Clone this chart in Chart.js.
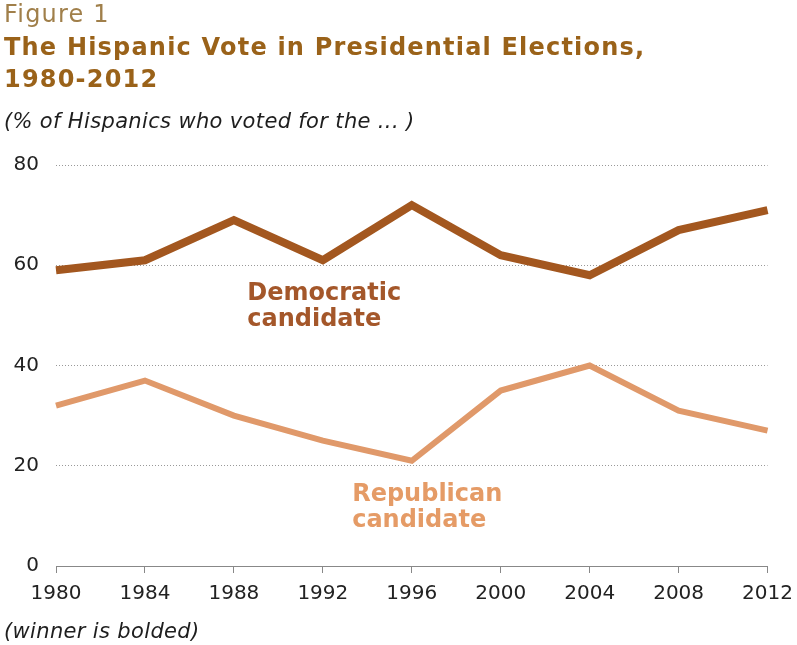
<!DOCTYPE html>
<html>
<head>
<meta charset="utf-8">
<script src="https://cdn.jsdelivr.net/npm/chart.js@4.4.0/dist/chart.umd.min.js"></script>
<style>
  body { margin: 0; background: #fff; }
  #wrap { position: relative; width: 797px; height: 645px; overflow: hidden; }
  #wrap canvas { position: absolute; left: 0; top: 0; }
  .txt { position: absolute; left: 4px; white-space: nowrap; font-family: "DejaVu Sans", Verdana, sans-serif; }
  #fig { top: 1px; font-size: 24px; line-height: 26px; letter-spacing: 1.2px; color: #a07f4a; }
  #title { top: 31px; font-size: 24px; line-height: 32px; letter-spacing: 1.2px; font-weight: bold; color: #9a6219; }
  #sub { top: 109px; font-size: 21px; line-height: 24px; letter-spacing: 0.35px; font-style: italic; color: #1e1e1e; }
  #note { top: 619px; font-size: 21px; line-height: 24px; letter-spacing: 0.35px; font-style: italic; color: #1e1e1e; }
</style>
</head>
<body>
<div id="wrap">
  <canvas id="chart" width="797" height="645"></canvas>
  <div class="txt" id="fig">Figure 1</div>
  <div class="txt" id="title">The Hispanic Vote in Presidential Elections,<br>1980-2012</div>
  <div class="txt" id="sub">(% of Hispanics who voted for the ... )</div>
  <div class="txt" id="note">(winner is bolded)</div>
</div>
<script>
// data
const years = ['1980', '1984', '1988', '1992', '1996', '2000', '2004', '2008', '2012']
const democratic = [59, 61, 69, 61, 72, 62, 58, 67, 71]
const republican = [32, 37, 30, 25, 21, 35, 40, 31, 27]
const yTicks = [0, 20, 40, 60, 80]

const demColor = '#a3571f'
const repColor = '#e0996a'

// in-chart series labels, anchored in data units (category index, value)
const seriesNotes = [
    { lines: ['Democratic', 'candidate'], x: 2.15, y: [53.0, 47.9], color: '#a4572a' },
    { lines: ['Republican', 'candidate'], x: 3.33, y: [12.9, 7.8], color: '#e59b66' }
]

const notesPlugin = {
    id: 'seriesNotes',
    afterDatasetsDraw(chart) {
        let ctx = chart.ctx
        let xs = chart.scales.x
        let ys = chart.scales.y
        ctx.save()
        ctx.font = 'bold 24px "DejaVu Sans", Verdana, sans-serif'
        ctx.textAlign = 'left'
        ctx.textBaseline = 'alphabetic'
        seriesNotes.forEach(n => {
            ctx.fillStyle = n.color
            let px = xs.getPixelForValue(n.x)
            n.lines.forEach((t, i) => ctx.fillText(t, px, ys.getPixelForValue(n.y[i])))
        })
        ctx.restore()
    }
}

const tickFont = { family: '"DejaVu Sans", Verdana, sans-serif', size: 20 }

const ctx = document.getElementById('chart')
const chart = new Chart(ctx, {
    type: 'line',
    data: {
        labels: years,
        datasets: [{
            label: 'Democratic candidate',
            data: democratic,
            borderColor: demColor,
            borderWidth: 8,
            pointRadius: 0,
            tension: 0
        }, {
            label: 'Republican candidate',
            data: republican,
            borderColor: repColor,
            borderWidth: 6,
            pointRadius: 0,
            tension: 0
        }]
    },
    options: {
        responsive: false,
        animation: false,
        layout: { padding: { top: 165, right: 29, left: 0, bottom: 0 } },
        plugins: {
            legend: { display: false },
            tooltip: { enabled: false }
        },
        scales: {
            x: {
                offset: false,
                afterFit: s => { s.height = 79 },
                grid: {
                    display: true,
                    drawOnChartArea: false,
                    tickLength: 7,
                    tickColor: '#888',
                    tickWidth: 1
                },
                border: { display: true, color: '#888', width: 1 },
                ticks: {
                    color: '#222',
                    font: { family: tickFont.family, size: 20, lineHeight: 1.7 },
                    padding: 4,
                    maxRotation: 0,
                    autoSkip: false
                }
            },
            y: {
                min: 0,
                max: 80,
                afterFit: s => { s.width = 56 },
                afterBuildTicks: s => { s.ticks = yTicks.map(v => ({ value: v })) },
                grid: {
                    drawTicks: false,
                    color: c => c.tick.value === 0 ? 'rgba(0,0,0,0)' : '#999',
                    lineWidth: 1
                },
                border: { display: false, dash: [1, 2] },
                ticks: { color: '#222', font: tickFont, padding: 17 }
            }
        }
    },
    plugins: [notesPlugin]
})
</script>
</body>
</html>
